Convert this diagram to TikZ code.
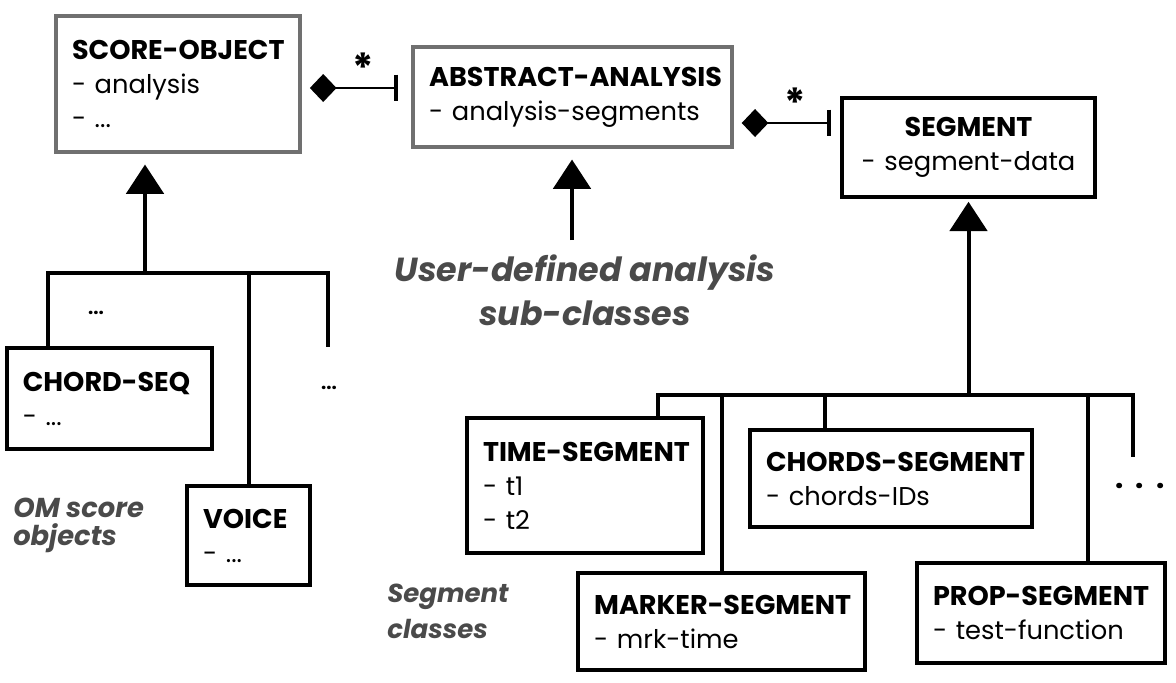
\documentclass[tikz,border=0pt]{standalone}
\usepackage{fontspec}
\setmainfont{Poppins}
\usepackage{tikz}
\usetikzlibrary{arrows.meta}

\definecolor{boxgray}{RGB}{112,112,112}
\definecolor{notegray}{RGB}{74,74,74}

% keep every line of a class on one line
\exhyphenpenalty=10000
\hyphenpenalty=10000
\newcommand{\clsname}[1]{{\fontsize{20.3}{25.5}\selectfont\bfseries #1}}

\tikzset{
  classbox/.style={draw=black, line width=3.4pt, fill=white, align=left,
    inner xsep=12pt, inner ysep=0pt, font=\fontsize{19.3}{25.5}\selectfont},
  grayclass/.style={classbox, draw=boxgray, line width=2.8pt},
  link/.style={line width=3pt},
  inherit/.style={line width=3pt, -{Triangle[length=22pt,width=28pt]}},
  compose/.style={line width=2pt, {Diamond[length=20pt,width=21pt]}-{Bar[width=20pt,line width=3pt]}},
  starmark/.style={font=\fontsize{30}{30}\bfseries\selectfont, inner sep=0pt},
  note/.style={text=notegray, font=\bfseries\itshape, inner sep=0pt, anchor=north west},
  dots/.style={font=\fontsize{14}{14}\bfseries\selectfont, inner sep=0pt}
}

\begin{document}
\begin{tikzpicture}[x=0.75pt,y=0.75pt,yscale=-1,xscale=1]
\useasboundingbox (0,0) rectangle (1176,682);

%Shape: Rectangle [score object]
\node[grayclass, minimum width=183pt, minimum height=102pt, text width=159pt] (score) at (178,84) {\clsname{SCORE-OBJECT}\\-~analysis\\-~...};
%Shape: Rectangle [abstract analysis]
\node[grayclass, minimum width=239pt, minimum height=75pt, text width=215pt] (abs) at (572.5,97) {\clsname{ABSTRACT-ANALYSIS}\\-~analysis-segments};
%Shape: Rectangle [segment]
\node[classbox, align=center, minimum width=190pt, minimum height=74pt, text width=166pt] (seg) at (968.5,147.5) {\clsname{SEGMENT}\\-~segment-data};
%Shape: Rectangle [chord-seq]
\node[classbox, minimum width=154pt, minimum height=76pt, text width=130pt] (chordseq) at (109.5,398.5) {\clsname{CHORD-SEQ}\\-~...};
%Shape: Rectangle [voice]
\node[classbox, minimum width=92pt, minimum height=74pt, text width=68pt] (voice) at (248.5,535.5) {\clsname{VOICE}\\-~...};
%Shape: Rectangle [time-segment]
\node[classbox, minimum width=177pt, minimum height=101pt, text width=153pt] (timeseg) at (585,485.5) {\clsname{TIME-SEGMENT}\\-~t1\\-~t2};
%Shape: Rectangle [chords-segment]
\node[classbox, minimum width=211.5pt, minimum height=73pt, text width=187.5pt] (chordsseg) at (891,478.5) {\clsname{CHORDS-SEGMENT}\\-~chords-IDs};
%Shape: Rectangle [marker-segment]
\node[classbox, minimum width=215pt, minimum height=73pt, text width=191pt] (markerseg) at (721.5,621.5) {\clsname{MARKER-SEGMENT}\\-~mrk-time};
%Shape: Rectangle [prop-segment]
\node[classbox, minimum width=186pt, minimum height=75pt, text width=162pt] (propseg) at (1041,613) {\clsname{PROP-SEGMENT}\\-~test-function};

%Straight Lines [composition]
\coordinate (c1) at ([shift={(8,4)}]score.east);
\draw[compose] (c1) -- ([xshift=-9.75pt]c1 -| abs.west) node[starmark, pos=0.6, above=3pt] (star1) {*};
\coordinate (c2) at ([shift={(8,26)}]abs.east);
\draw[compose] (c2) -- ([xshift=-6.75pt]c2 -| seg.west) node[starmark, pos=0.6, above=3pt] (star2) {*};

%Straight Lines [score objects bus]
\coordinate (lbus) at (145,273);
\coordinate (lbusL) at (48,273);
\coordinate (lbusR) at (328,273);
\coordinate (lend) at (328,347);
\draw[link] (chordseq.north -| lbusL) -- (lbusL) -- (lbusR) -- (lend);
\draw[link] (voice.north) -- (voice.north |- lbusL);
\draw[inherit, shorten >=8pt] (lbus) -- (lbus |- score.south);

%Straight Lines [user analysis]
\coordinate (ufoot) at (572,240);
\draw[inherit, shorten >=8pt] (ufoot) -- (ufoot |- abs.south);

%Straight Lines [segment bus]
\coordinate (rbusL) at (658,395);
\coordinate (rbusR) at (1133,395);
\coordinate (rend) at (1133,457);
\coordinate (cfoot) at (825,395);
\coordinate (pfoot) at (1088,395);
\draw[link] (timeseg.north -| rbusL) -- (rbusL) -- (rbusR) -- (rend);
\draw[link] (markerseg.north) -- (markerseg.north |- rbusL);
\draw[link] (cfoot) -- (cfoot |- chordsseg.north);
\draw[link] (pfoot) -- (pfoot |- propseg.north);
\draw[inherit, shorten >=2pt] (seg.south |- rbusL) -- (seg.south);

% Text Node
\node[dots] (dots1) at (96,313) {...};
% Text Node
\node[dots] (dots2) at (329,388) {...};
% Text Node
\node[dots, font=\fontsize{22}{22}\bfseries\selectfont] (dots3) at (1140,486) {.\hspace{9pt}.\hspace{9pt}.};
% Text Node
\node[note, anchor=center, align=center, font=\fontsize{25}{33}\bfseries\itshape\selectfont] (usernote) at (585,290) {User-defined analysis\\sub-classes};
% Text Node
\node[note, align=left, font=\fontsize{20.5}{21}\bfseries\itshape\selectfont] (omnote) at (13,498) {OM score\\objects};
% Text Node
\node[note, align=left, font=\fontsize{19.5}{27}\bfseries\itshape\selectfont] (segnote) at (387,584) {Segment\\classes};
\end{tikzpicture}
\end{document}
